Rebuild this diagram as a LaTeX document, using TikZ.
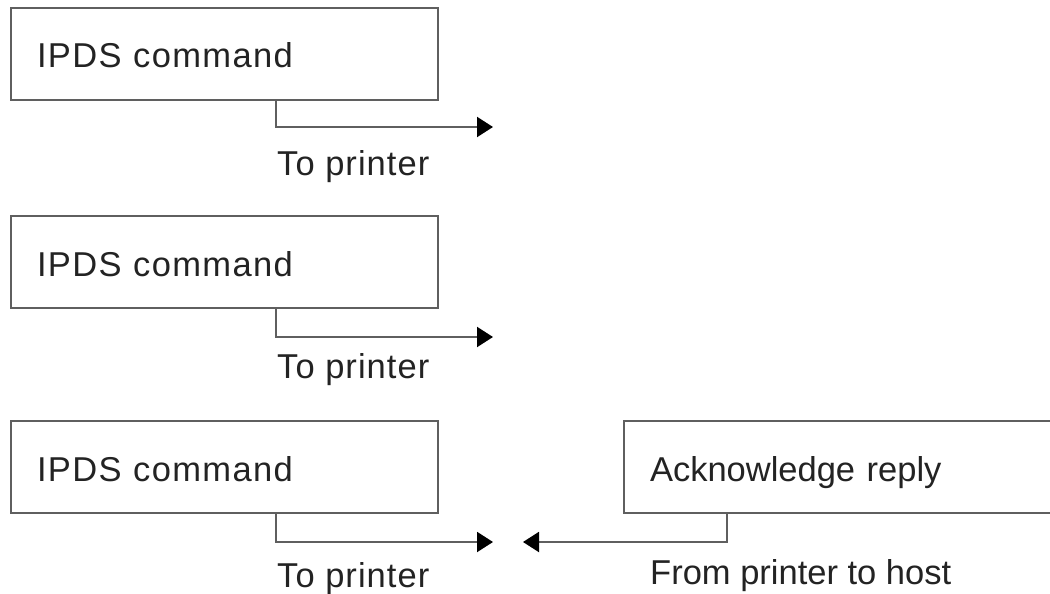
\documentclass[tikz,border=0pt]{standalone}
\usepackage{fontspec}
\setmainfont{Liberation Sans}
\usetikzlibrary{arrows.meta}
\definecolor{linegray}{RGB}{95,95,95}
\definecolor{textgray}{RGB}{35,35,35}
\begin{document}
\begin{tikzpicture}[x=1pt,y=-1pt,
  every node/.style={font=\fontsize{34.5}{40}\selectfont, text=textgray},
  cmdbox/.style={draw=linegray, line width=2pt, minimum height=92pt, inner xsep=26pt, inner ysep=0pt, text height=30pt, text depth=2pt, anchor=north west, align=left},
  conn/.style={draw=linegray, line width=2pt, -{Triangle[length=16pt,width=20pt,fill=black,color=black]}},
  lbl/.style={anchor=base west, inner sep=0pt}]
\clip (0,0) rectangle (1050,594);
\fill[white] (0,0) rectangle (1050,594);
% boxes
\node[cmdbox, minimum width=427pt, text width=375pt] (b1) at (10,7) {\addfontfeature{LetterSpace=4}IPDS command};
\node[cmdbox, minimum width=427pt, text width=375pt] (b2) at (10,215) {\addfontfeature{LetterSpace=4}IPDS command};
\node[cmdbox, minimum width=427pt, text width=375pt] (b3) at (10,420) {\addfontfeature{LetterSpace=4}IPDS command};
\node[cmdbox, minimum width=440pt, text width=388pt] (ack) at (623,420) {Acknowledge reply};
% arrow ends
\coordinate (t1) at (493,127);
\coordinate (t2) at (493,337);
\coordinate (t3) at (493,542);
\coordinate (t4) at (523,542);
% connectors
\draw[conn] (b1.south west) ++(266,0) |- (t1);
\draw[conn] (b2.south west) ++(266,0) |- (t2);
\draw[conn] (b3.south west) ++(266,0) |- (t3);
\draw[conn] (ack.south west) ++(104,0) |- (t4);
% labels
\node[lbl] (l1) at (277,175) {\addfontfeature{LetterSpace=3}To printer};
\node[lbl] (l2) at (277,378) {\addfontfeature{LetterSpace=3}To printer};
\node[lbl] (l3) at (277,587) {\addfontfeature{LetterSpace=3}To printer};
\node[lbl] (l4) at (650,584) {From printer to host};
\end{tikzpicture}
\end{document}
